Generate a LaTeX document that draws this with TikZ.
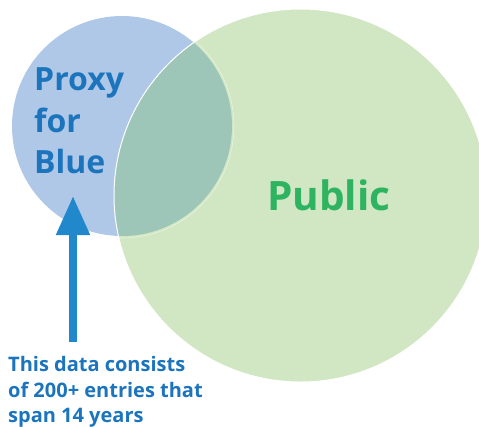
\documentclass[tikz,border=0pt]{standalone}
\usepackage{fontspec}
\setmainfont{Open Sans}
\usetikzlibrary{arrows.meta}
\definecolor{bluefill}{HTML}{AFC8E8}
\definecolor{greenfill}{HTML}{D1E6C3}
\definecolor{overlapfill}{HTML}{9EC6B8}
\definecolor{bluetext}{HTML}{1C75BC}
\definecolor{greentext}{HTML}{2EB461}
\definecolor{arrowblue}{HTML}{2189CB}
\tikzset{
  biglabel/.style={anchor=base west, inner sep=0pt, text=bluetext, font=\fontsize{32}{41}\selectfont\bfseries},
  publabel/.style={anchor=base west, inner sep=0pt, text=greentext, font=\fontsize{40.5}{50}\selectfont\bfseries},
  notelabel/.style={anchor=base west, inner sep=0pt, text=bluetext, font=\fontsize{20}{25}\selectfont\bfseries},
  pointer/.style={arrowblue, line width=8pt, -{Triangle[width=32pt,length=39pt]}}
}
\begin{document}
\begin{tikzpicture}[x=1pt,y=-1pt]
\useasboundingbox (0,0) rectangle (479,426);
\clip (0,0) rectangle (479,426);
% circles
\fill[bluefill] (122,126) circle[radius=110];
\fill[greenfill] (300.5,195.5) circle[radius=186.5];
\begin{scope}
  \clip (300.5,195.5) circle[radius=186.5];
  \fill[overlapfill] (122,126) circle[radius=110];
  \draw[white, opacity=0.5, line width=0.6pt] (122,126) circle[radius=112];
\end{scope}
\draw[white, line width=1pt] (300.5,195.5) circle[radius=186.5];
% labels
\node[biglabel] (proxy) at (34,90) {Proxy};
\node[biglabel] (for) at (34,132) {for};
\node[biglabel] (blue) at (34,173) {Blue};
\node[publabel] (public) at (267,210) {Public};
\node[notelabel] (n1) at (8,371) {This data consists};
\node[notelabel] (n2) at (8,397) {of 200+ entries that};
\node[notelabel] (n3) at (8,422) {span 14 years};
% arrow
\coordinate (arrowstart) at (73,342);
\coordinate (arrowtip) at (73,196);
\draw[pointer] (arrowstart) -- (arrowtip);
\end{tikzpicture}
\end{document}
